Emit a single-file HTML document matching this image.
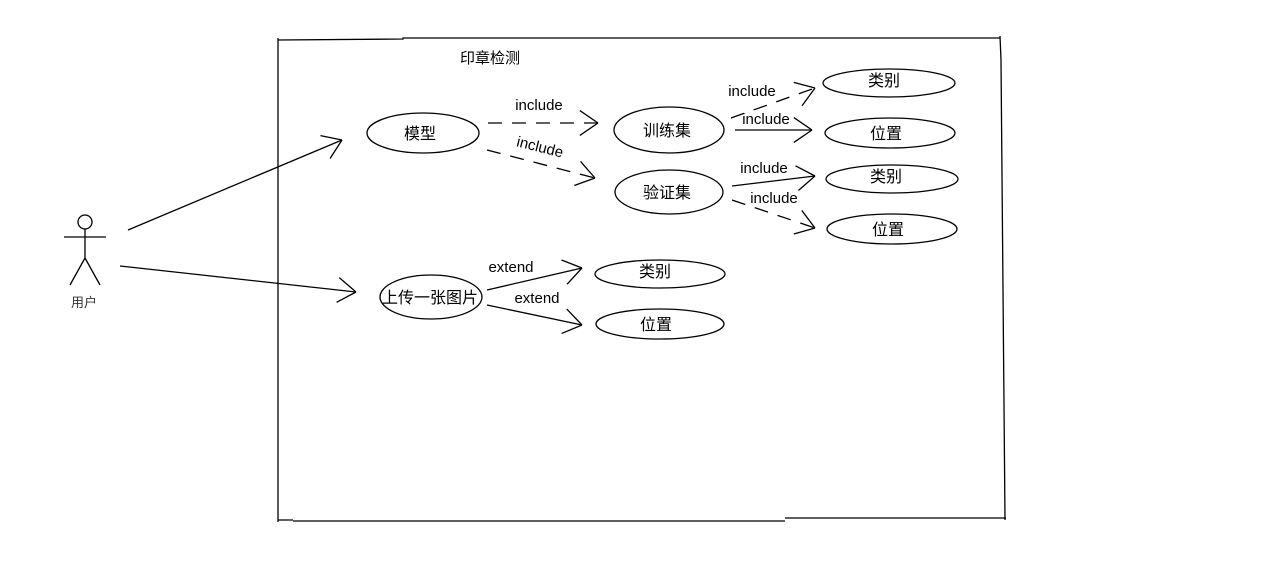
<!DOCTYPE html>
<html><head><meta charset="utf-8"><style>
html,body{margin:0;padding:0;background:#fff;width:1284px;height:588px;overflow:hidden}
text{font-family:"Liberation Sans","Noto Sans CJK SC",sans-serif;font-size:15px;fill:#000}
.c{font-size:16px}
</style></head><body>
<svg id="s" width="1284" height="588" viewBox="0 0 1284 588" xmlns="http://www.w3.org/2000/svg">
<g stroke="#000" stroke-width="1.3" fill="none">
<path d="M278,40 L403,39 L403,38 L1000,38 M1000,36 L1001,60 L1005,520 M278,38 L278,522 M278,520 L293,520 M293,521 L785,521 M785,518 L1006,518"/>
<ellipse cx="423" cy="133" rx="56" ry="20"/>
<ellipse cx="669" cy="130" rx="55" ry="23"/>
<ellipse cx="669" cy="192" rx="54" ry="22"/>
<ellipse cx="889" cy="83" rx="66" ry="14"/>
<ellipse cx="890" cy="133" rx="65" ry="15"/>
<ellipse cx="892" cy="179" rx="66" ry="14"/>
<ellipse cx="892" cy="229" rx="65" ry="15"/>
<ellipse cx="431" cy="297" rx="51" ry="22"/>
<ellipse cx="660" cy="274" rx="65" ry="14"/>
<ellipse cx="660" cy="324" rx="64" ry="15"/>
<circle cx="85" cy="222" r="7"/>
<path d="M85,229 L85,258 M64,237 L106,237 M85,258 L70,285 M85,258 L100,285"/>
<g id="ln"></g>
</g>
<text x="490" y="63" text-anchor="middle">印章检测</text>
<text class="c" x="420" y="139" text-anchor="middle">模型</text>
<text class="c" x="667" y="136" text-anchor="middle">训练集</text>
<text class="c" x="667" y="198" text-anchor="middle">验证集</text>
<text class="c" x="884" y="86" text-anchor="middle">类别</text>
<text class="c" x="886" y="139" text-anchor="middle">位置</text>
<text class="c" x="886" y="182" text-anchor="middle">类别</text>
<text class="c" x="888" y="235" text-anchor="middle">位置</text>
<text class="c" x="430" y="303" text-anchor="middle">上传一张图片</text>
<text class="c" x="655" y="277" text-anchor="middle">类别</text>
<text class="c" x="656" y="330" text-anchor="middle">位置</text>
<text x="84" y="307" text-anchor="middle" style="font-size:13px;fill:#333">用户</text>
<text x="539" y="110" text-anchor="middle">include</text>
<text x="540" y="152" text-anchor="middle" transform="rotate(14 540 147)">include</text>
<text x="752" y="96" text-anchor="middle">include</text>
<text x="766" y="124" text-anchor="middle">include</text>
<text x="764" y="173" text-anchor="middle">include</text>
<text x="774" y="203" text-anchor="middle">include</text>
<text x="511" y="272" text-anchor="middle">extend</text>
<text x="537" y="303" text-anchor="middle">extend</text>
</svg>
<script>
var L=[[128,230,342,140,0],[120,266,356,292,0],[488,123,598,123,1],[487,150,595,178,1],
[731,118,815,88,1],[735,130,812,130,0],[732,186,815,176,0],[732,200,815,228,1],
[487,290,582,268,0],[487,305,582,325,0]];
var g=document.getElementById('ln'),h='';
L.forEach(function(a){var x1=a[0],y1=a[1],x2=a[2],y2=a[3];
var ang=Math.atan2(y2-y1,x2-x1),len=22,sp=0.6;
h+='<line x1="'+x1+'" y1="'+y1+'" x2="'+x2+'" y2="'+y2+'"'+(a[4]?' stroke-dasharray="14 10"':'')+'/>';
for(var s=-1;s<=1;s+=2){var t=ang+Math.PI+s*sp;
h+='<line x1="'+x2+'" y1="'+y2+'" x2="'+(x2+len*Math.cos(t))+'" y2="'+(y2+len*Math.sin(t))+'"/>';}
});
g.innerHTML=h;
</script>
</body></html>
